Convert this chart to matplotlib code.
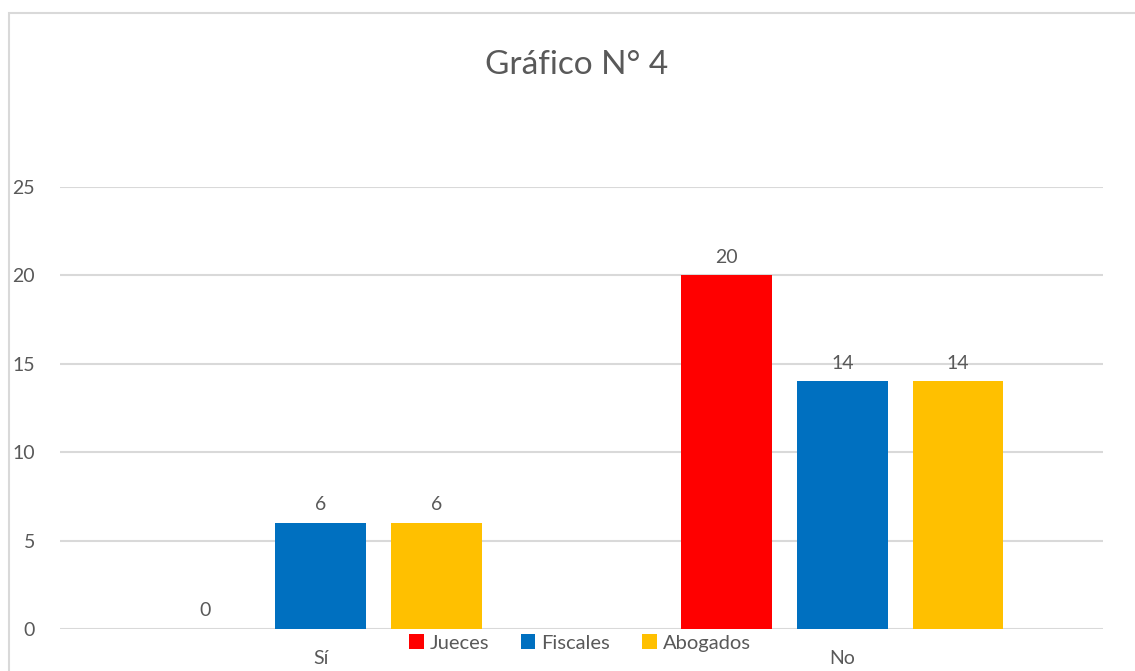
import numpy as np
import matplotlib
matplotlib.use('Agg')
import matplotlib.pyplot as plt
from matplotlib.patches import Rectangle

plt.rcParams['font.family'] = ['Lato', 'DejaVu Sans']

categorias = ['Sí', 'No']
series = ['Jueces', 'Fiscales', 'Abogados']
jueces = [0, 20]
fiscales = [6, 14]
abogados = [6, 14]
colores = ['#FF0000', '#0070C0', '#FFC000']
titulo = 'Gráfico N° 4'

W, H = 1135, 671
fig = plt.figure(figsize=(W / 100, H / 100), dpi=100)
ax = fig.add_axes([60 / W, 1 - 629 / H, (1103 - 60) / W, (629 - 187) / H])

# marco del gráfico
fig.patches.append(Rectangle((9 / W, -0.1), 1.2, 1 - 13 / H + 0.1,
                             transform=fig.transFigure, fill=False,
                             edgecolor='#d9d9d9', linewidth=1.5))

x = np.arange(len(categorias))
ancho = 0.174
paso = 0.222
gris = '#595959'
for i, (datos, nombre) in enumerate(zip([jueces, fiscales, abogados], series)):
    pos = x + (i - 1) * paso
    barras = ax.bar(pos, datos, ancho, color=colores[i], label=nombre, zorder=3)
    for b, v in zip(barras, datos):
        ax.annotate(str(v), (b.get_x() + b.get_width() / 2, v),
                    xytext=(0, 7), textcoords='offset points',
                    ha='center', va='bottom', fontsize=14, color=gris)

ax.set_xlim(-0.5, 1.5)
ax.set_ylim(0, 25)
ax.set_yticks(range(0, 26, 5))
ax.set_xticks(x)
ax.set_xticklabels(categorias)
ax.yaxis.grid(True, color='#d9d9d9', linewidth=1.5, zorder=0)
for s in ax.spines.values():
    s.set_visible(False)
ax.tick_params(axis='both', length=0, labelsize=14, labelcolor=gris)
ax.tick_params(axis='y', pad=18)
ax.tick_params(axis='x', pad=15)

fig.text(577 / W, 1 - 65 / H, titulo, ha='center', va='center',
         fontsize=24, color=gris)

ax.legend(loc='center', bbox_to_anchor=(580 / W, 1 - 643 / H),
          bbox_transform=fig.transFigure, ncol=3, frameon=False,
          fontsize=14.5, labelcolor=gris, handlelength=0.7, handleheight=0.7,
          handletextpad=0.3, columnspacing=1.6)

fig.savefig('out.png', dpi=100)
